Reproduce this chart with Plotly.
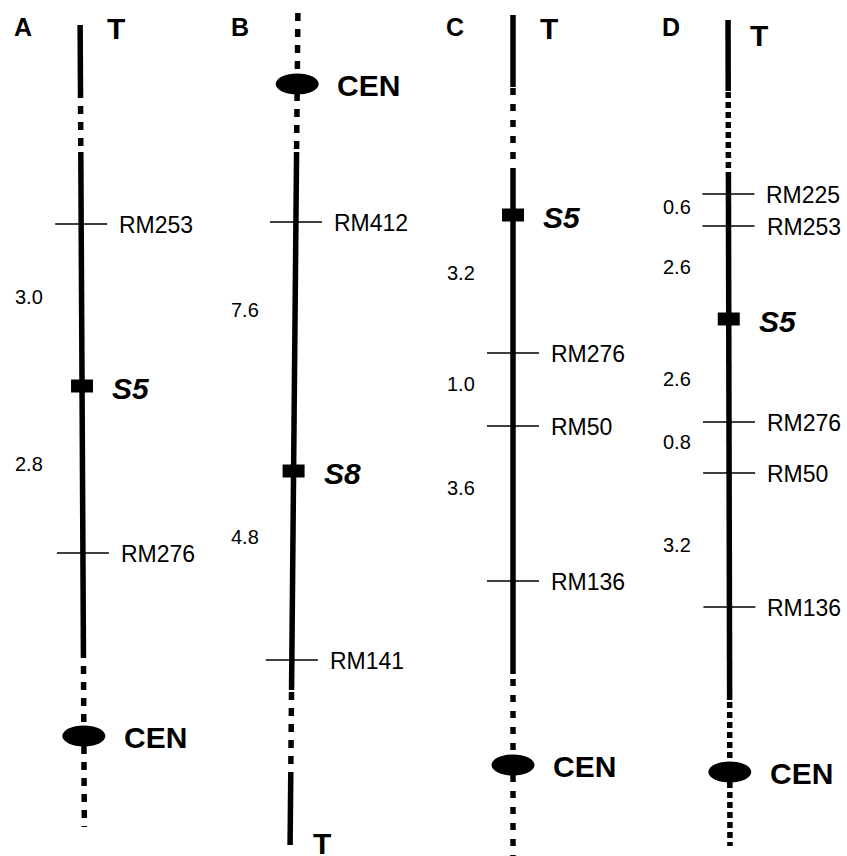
import plotly.graph_objects as go

# ---------------- data (map positions; 0 = top) ----------------
panels = ["A", "B", "C", "D"]

A_markers = ["RM253", "RM276"]
A_marker_pos = [224, 553]
A_gene = "S5"
A_gene_pos = 386
A_dist = ["3.0", "2.8"]
A_dist_pos = [297, 464]
A_cen_pos = 736
A_tel_pos = 28
A_solid = [[25, 98], [152, 650]]
A_dashed = [[106, 148], [650, 827]]

B_markers = ["RM412", "RM141"]
B_marker_pos = [222, 660]
B_gene = "S8"
B_gene_pos = 471
B_dist = ["7.6", "4.8"]
B_dist_pos = [310, 537]
B_cen_pos = 84
B_tel_pos = 843
B_solid = [[152, 690], [772, 845]]
B_dashed = [[13, 152], [692, 765]]

C_markers = ["RM276", "RM50", "RM136"]
C_marker_pos = [353, 426, 581]
C_gene = "S5"
C_gene_pos = 215
C_dist = ["3.2", "1.0", "3.6"]
C_dist_pos = [273, 384, 488]
C_cen_pos = 765
C_tel_pos = 28
C_solid = [[15, 87], [168, 674]]
C_dashed = [[88, 168], [679, 856]]

D_markers = ["RM225", "RM253", "RM276", "RM50", "RM136"]
D_marker_pos = [194, 226, 422, 473, 607]
D_gene = "S5"
D_gene_pos = 319
D_dist = ["0.6", "2.6", "2.6", "0.8", "3.2"]
D_dist_pos = [207, 267, 379, 442, 545]
D_cen_pos = 772
D_tel_pos = 35
D_solid = [[20, 91], [173, 700]]
D_dashed = [[92, 173], [702, 846]]

# ---------------- layout constants ----------------
W, H = 847, 856
FONT = "Liberation Sans, Arial, Helvetica, sans-serif"
chrom_top_x = {"A": 80.0, "B": 298.0, "C": 513.0, "D": 728.0}
chrom_bot_x = {"A": 84.5, "B": 290.0, "C": 513.0, "D": 730.0}
dist_x = {"A": 29, "B": 245, "C": 461, "D": 677}
letter_x = {"A": 23, "B": 240, "C": 455, "D": 671}
tel_x_off = {"A": 36, "B": 32, "C": 36, "D": 31}
dash_pat = {"A": "8px,8px", "B": "8px,8px", "C": "7px,9px", "D": "6px,4px"}

data = {
    "A": (A_markers, A_marker_pos, A_gene, A_gene_pos, A_dist, A_dist_pos, A_cen_pos, A_tel_pos, A_solid, A_dashed),
    "B": (B_markers, B_marker_pos, B_gene, B_gene_pos, B_dist, B_dist_pos, B_cen_pos, B_tel_pos, B_solid, B_dashed),
    "C": (C_markers, C_marker_pos, C_gene, C_gene_pos, C_dist, C_dist_pos, C_cen_pos, C_tel_pos, C_solid, C_dashed),
    "D": (D_markers, D_marker_pos, D_gene, D_gene_pos, D_dist, D_dist_pos, D_cen_pos, D_tel_pos, D_solid, D_dashed),
}


def line_x(p, y):
    t = y / H
    return chrom_top_x[p] + (chrom_bot_x[p] - chrom_top_x[p]) * t


fig = go.Figure()
shapes = []
annotations = []

for p in panels:
    markers, mpos, gene, gpos, dist, dpos, cen, tel, solid, dashed = data[p]

    # chromosome segments
    for (y0, y1) in solid:
        fig.add_trace(go.Scatter(
            x=[line_x(p, y0), line_x(p, y1)], y=[y0, y1], mode="lines",
            line=dict(color="black", width=5.5), hoverinfo="skip", showlegend=False))
    for (y0, y1) in dashed:
        fig.add_trace(go.Scatter(
            x=[line_x(p, y0), line_x(p, y1)], y=[y0, y1], mode="lines",
            line=dict(color="black", width=5.5, dash=dash_pat[p]), hoverinfo="skip", showlegend=False))

    # markers
    for name, y in zip(markers, mpos):
        lx = line_x(p, y)
        shapes.append(dict(type="line", xref="x", yref="y", x0=lx - 26, x1=lx + 26, y0=y, y1=y,
                           line=dict(color="black", width=1.4)))
        annotations.append(dict(x=lx + 36, y=y + 1, xref="x", yref="y", text=name, showarrow=False,
                                xanchor="left", yanchor="middle",
                                font=dict(family=FONT, size=23, color="black")))

    # gene locus
    lx = line_x(p, gpos)
    shapes.append(dict(type="rect", xref="x", yref="y", x0=lx - 11, x1=lx + 11, y0=gpos - 6.5, y1=gpos + 6.5,
                       fillcolor="black", line=dict(width=0)))
    annotations.append(dict(x=lx + 28, y=gpos + 2, xref="x", yref="y",
                            text="<b><i>" + gene + "</i></b>", showarrow=False,
                            xanchor="left", yanchor="middle",
                            font=dict(family=FONT, size=30, color="black")))

    # distances
    for d, y in zip(dist, dpos):
        annotations.append(dict(x=dist_x[p], y=y, xref="x", yref="y", text=d, showarrow=False,
                                xanchor="center", yanchor="middle",
                                font=dict(family=FONT, size=20, color="black")))

    # centromere
    lx = line_x(p, cen)
    shapes.append(dict(type="circle", xref="x", yref="y", x0=lx - 21.5, x1=lx + 21.5,
                       y0=cen - 10.5, y1=cen + 10.5, fillcolor="black", line=dict(width=0)))
    annotations.append(dict(x=lx + 38, y=cen + 1, xref="x", yref="y", text="<b>CEN</b>", showarrow=False,
                            xanchor="left", yanchor="middle",
                            font=dict(family=FONT, size=30, color="black")))

    # telomere label
    lx = line_x(p, tel)
    annotations.append(dict(x=lx + tel_x_off[p], y=tel, xref="x", yref="y", text="<b>T</b>", showarrow=False,
                            xanchor="center", yanchor="middle",
                            font=dict(family=FONT, size=30, color="black")))

    # panel letter
    annotations.append(dict(x=letter_x[p], y=27, xref="x", yref="y", text="<b>" + p + "</b>", showarrow=False,
                            xanchor="center", yanchor="middle",
                            font=dict(family=FONT, size=25, color="black")))

fig.update_layout(
    width=W, height=H,
    margin=dict(l=0, r=0, t=0, b=0),
    paper_bgcolor="white", plot_bgcolor="white",
    xaxis=dict(range=[0, W], visible=False, fixedrange=True),
    yaxis=dict(range=[H, 0], visible=False, fixedrange=True),
    shapes=shapes, annotations=annotations,
    showlegend=False,
)

fig.write_html(
    "out.html",
    config={"displayModeBar": False},
    post_script="document.body.style.margin='0';document.body.style.overflow='hidden';",
)
